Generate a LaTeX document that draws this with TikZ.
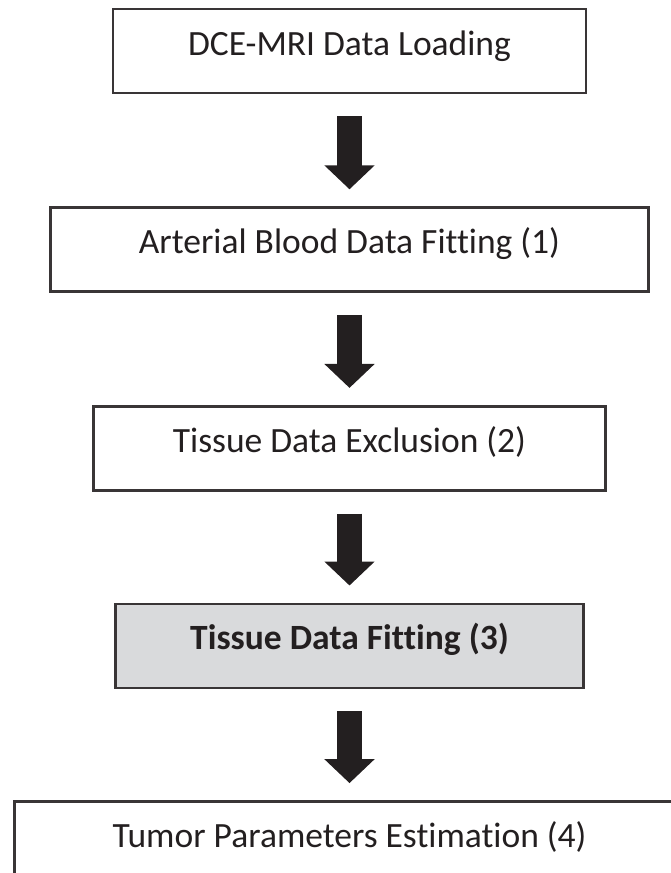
\documentclass[tikz,border=0pt]{standalone}
\usepackage{fontspec}
\setmainfont{Carlito}[Ligatures=NoCommon]
\usepackage{tikz}
\usetikzlibrary{positioning,arrows.meta}
\definecolor{boxgray}{RGB}{217,218,220}
\definecolor{inkblack}{RGB}{35,31,32}

\begin{document}
\begin{tikzpicture}[x=1pt, y=1pt,
    stage/.style={draw=inkblack!90, line width=2.6pt, inner xsep=0pt, inner ysep=0pt,
      text height=46pt, text depth=38pt, font=\fontsize{35.5}{40}\selectfont, text=inkblack},
    flowarrow/.style={inkblack, line width=25pt, -{Triangle[width=49pt, length=24pt]}}]
    \useasboundingbox (0,0) rectangle (671,-873);

    % Stages
    \node[stage, minimum width=473pt] (load) at (349.5,-51) {DCE-MRI Data Loading};
    \node[stage, minimum width=598pt, below=112pt of load] (arterial) {Arterial Blood Data Fitting (1)};
    \node[stage, minimum width=512pt, below=112pt of arterial] (exclusion) {Tissue Data Exclusion (2)};
    \node[stage, minimum width=468pt, fill=boxgray, font=\fontsize{35.5}{40}\selectfont\bfseries,
      below=111pt of exclusion] (fitting) {Tissue Data Fitting (3)};
    \node[stage, minimum width=670pt, below=111pt of fitting] (tumor) {Tumor Parameters Estimation (4)};

    % Arrows
    \draw[flowarrow] ([yshift=-22pt]load.south) -- ([yshift=17pt]arterial.north);
    \draw[flowarrow] ([yshift=-22pt]arterial.south) -- ([yshift=17pt]exclusion.north);
    \draw[flowarrow] ([yshift=-22pt]exclusion.south) -- ([yshift=17pt]fitting.north);
    \draw[flowarrow] ([yshift=-22pt]fitting.south) -- ([yshift=17pt]tumor.north);
\end{tikzpicture}
\end{document}
